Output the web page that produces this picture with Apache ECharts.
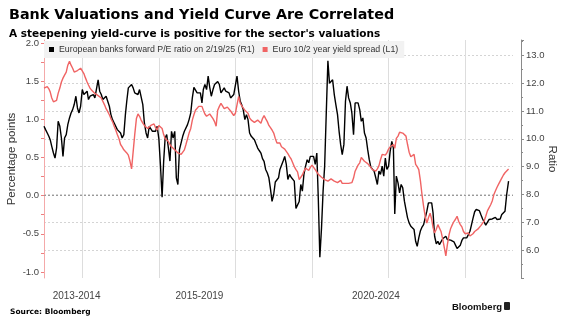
<!DOCTYPE html>
<html>
<head>
<meta charset="utf-8">
<script src="https://cdn.jsdelivr.net/npm/echarts@6/dist/echarts.min.js"></script>
<style>
  html, body { margin: 0; padding: 0; background: #ffffff; }
  #chart { width: 566px; height: 323px; }
</style>
</head>
<body>
<div id="chart"></div>
<script>
// Series names as shown in the legend
const seriesNames = [
  'European banks forward P/E ratio on 2/19/25 (R1)',
  'Euro 10/2 year yield spread (L1)'
];

// Twice-monthly observations (1st and 16th) from Jan 2013; last reading on 2/19/25
const firstYear = 2013;
const lastDate = '2025-02-19';

// European banks forward P/E ratio (right axis), one row per year
const peRatio = [
  10.45, 10.33, 10.21, 10.09, 9.97, 9.73, 9.49, 9.31, 9.67, 10.63, 10.45, 10.03, 9.37, 10.03, 10.15, 10.51, 10.75, 10.93, 11.05, 11.23, 11.53, 11.11, 10.93, 11.17,
  11.77, 11.59, 11.65, 11.71, 11.41, 11.53, 11.59, 11.59, 11.47, 11.53, 12.12, 11.71, 11.59, 11.41, 11.47, 11.53, 11.59, 11.17, 10.87, 10.69, 10.57, 10.51, 10.33, 10.39,
  10.21, 10.03, 10.15, 10.87, 11.35, 11.83, 11.89, 11.95, 11.83, 11.65, 11.59, 11.59, 11.77, 11.73, 11.23, 10.57, 10.21, 10.03, 10.45, 10.45, 10.27, 10.21, 10.27, 10.45,
  10.0, 9.07, 7.9, 9.2, 10.03, 10.15, 9.67, 9.2, 10.27, 10.03, 10.27, 8.6, 8.36, 9.61, 9.67, 10.09, 10.27, 10.33, 10.51, 10.69, 10.93, 11.47, 11.85, 11.83,
  11.65, 11.59, 11.65, 11.29, 11.77, 11.95, 11.77, 12.25, 11.85, 11.53, 11.77, 11.95, 12.0, 12.06, 11.95, 11.65, 11.65, 11.83, 11.71, 11.73, 11.65, 11.47, 11.47, 11.59,
  11.53, 12.25, 11.7, 11.35, 11.23, 11.05, 10.69, 10.87, 10.69, 10.21, 10.09, 10.03, 9.97, 9.82, 9.67, 9.58, 9.49, 9.29, 9.19, 8.9, 8.77, 8.6, 8.2, 7.75,
  8.0, 8.45, 8.5, 8.6, 8.9, 8.96, 9.2, 9.37, 9.08, 8.54, 8.72, 8.62, 8.69, 8.48, 7.5, 7.46, 7.75, 8.36, 8.12, 8.72, 9.02, 9.25, 9.14, 9.37,
  9.37, 9.37, 9.08, 9.49, 7.88, 5.75, 6.8, 8.12, 9.02, 10.87, 12.8, 12.0, 11.95, 12.12, 11.59, 11.23, 10.87, 10.27, 9.79, 9.43, 9.8, 11.35, 11.89, 11.47,
  11.29, 10.93, 10.15, 11.29, 11.35, 11.29, 11.05, 10.63, 10.75, 10.21, 10.03, 9.61, 9.25, 8.98, 9.05, 8.84, 8.6, 8.36, 8.84, 8.72, 9.02, 8.66, 9.31, 8.9,
  9.02, 9.55, 9.91, 9.67, 7.3, 8.66, 8.42, 8.06, 8.36, 8.24, 7.76, 7.46, 7.16, 6.98, 6.86, 6.86, 6.74, 6.32, 6.14, 6.44, 6.7, 6.83, 6.92, 6.98,
  7.4, 7.7, 7.76, 7.7, 7.34, 6.5, 6.23, 6.32, 6.2, 6.23, 6.41, 6.44, 6.5, 6.38, 6.32, 6.36, 6.36, 6.3, 6.18, 6.06, 5.99, 6.18, 6.35, 6.44,
  6.49, 6.44, 6.56, 6.68, 6.9, 7.14, 7.38, 7.46, 7.52, 7.42, 7.26, 7.12, 7.06, 6.9, 6.94, 7.1, 7.14, 7.12, 7.18, 7.18, 7.1, 7.16, 7.12, 7.28,
  7.24, 7.4, 8.0, 8.48
];

// Euro 10/2 year yield spread, percentage points (left axis), one row per year
const yieldSpread = [
  1.41, 1.41, 1.43, 1.4, 1.36, 1.28, 1.23, 1.21, 1.25, 1.34, 1.41, 1.49, 1.54, 1.58, 1.62, 1.71, 1.76, 1.71, 1.67, 1.62, 1.6, 1.64, 1.62, 1.67,
  1.69, 1.6, 1.54, 1.49, 1.45, 1.41, 1.38, 1.36, 1.34, 1.33, 1.31, 1.3, 1.28, 1.28, 1.19, 1.14, 1.1, 1.06, 1.01, 0.97, 0.91, 0.86, 0.8, 0.75,
  0.67, 0.64, 0.6, 0.58, 0.56, 0.53, 0.45, 0.35, 0.36, 0.8, 1.01, 1.07, 1.04, 0.99, 0.95, 0.92, 0.92, 0.88, 0.88, 0.92, 0.94, 0.94, 0.89, 0.86,
  0.92, 0.91, 0.88, 0.8, 0.75, 0.73, 0.71, 0.67, 0.64, 0.62, 0.6, 0.58, 0.56, 0.54, 0.54, 0.56, 0.6, 0.67, 0.69, 0.82, 0.88, 0.99, 1.06, 1.12,
  1.14, 1.17, 1.17, 1.17, 1.12, 1.07, 1.04, 1.04, 1.07, 1.07, 1.01, 0.97, 0.91, 1.12, 1.17, 1.21, 1.19, 1.14, 1.14, 1.16, 1.17, 1.11, 1.08, 1.05,
  1.08, 1.19, 1.3, 1.21, 1.19, 1.15, 1.12, 1.1, 1.08, 1.02, 0.99, 0.97, 0.96, 0.98, 0.99, 0.97, 0.95, 1.01, 1.05, 1.01, 0.97, 0.92, 0.89, 0.86,
  0.82, 0.75, 0.69, 0.71, 0.69, 0.64, 0.62, 0.61, 0.58, 0.55, 0.51, 0.48, 0.43, 0.38, 0.34, 0.31, 0.21, 0.23, 0.27, 0.32, 0.36, 0.35, 0.33, 0.37,
  0.4, 0.38, 0.34, 0.32, 0.28, 0.27, 0.24, 0.22, 0.21, 0.2, 0.19, 0.2, 0.22, 0.2, 0.19, 0.18, 0.17, 0.17, 0.2, 0.16, 0.14, 0.16, 0.17, 0.16,
  0.15, 0.17, 0.23, 0.32, 0.34, 0.4, 0.43, 0.5, 0.51, 0.45, 0.44, 0.42, 0.41, 0.37, 0.34, 0.32, 0.32, 0.35, 0.39, 0.47, 0.54, 0.55, 0.53, 0.56,
  0.61, 0.64, 0.66, 0.67, 0.62, 0.75, 0.78, 0.83, 0.85, 0.82, 0.8, 0.78, 0.67, 0.57, 0.51, 0.53, 0.54, 0.41, 0.38, 0.34, 0.19, 0.01, -0.14, -0.27,
  -0.36, -0.29, -0.23, -0.31, -0.42, -0.49, -0.44, -0.38, -0.36, -0.47, -0.57, -0.68, -0.79, -0.64, -0.51, -0.43, -0.38, -0.34, -0.31, -0.27, -0.34, -0.38, -0.41, -0.47,
  -0.5, -0.49, -0.49, -0.53, -0.52, -0.5, -0.47, -0.45, -0.44, -0.43, -0.39, -0.38, -0.33, -0.27, -0.2, -0.16, -0.12, -0.07, 0.01, 0.06, 0.11, 0.15, 0.19, 0.23,
  0.27, 0.3, 0.32, 0.35
];

// Axis ticks and labels (x positions in fractional years)
const leftLabels = [-1, -0.5, 0, 0.5, 1, 1.5, 2];
const leftTicks = [-1, -0.75, -0.5, -0.25, 0, 0.25, 0.5, 0.75, 1, 1.25, 1.5, 1.75, 2];
const rightLabels = [6, 7, 8, 9, 10, 11, 12, 13];
const gridYears = [2014, 2016, 2018, 2020, 2022, 2024];
const periodLabels = ['2013-2014', '2015-2019', '2020-2024'];
const periodLabelYears = [2013.85, 2017.06, 2021.67];

const titleText = 'Bank Valuations and Yield Curve Are Correlated';
const subtitleText = "A steepening yield-curve is positive for the sector's valuations";
const sourceText = 'Source: Bloomberg';
const brandText = 'Bloomberg';

const LABEL_FONT = '"Liberation Sans", Arial, sans-serif';
const HEAD_FONT = '"DejaVu Sans", Verdana, sans-serif';

// Fractional-year position of each observation
function yearFraction(ms) {
  const y = new Date(ms).getUTCFullYear();
  const start = Date.UTC(y, 0, 1);
  const end = Date.UTC(y + 1, 0, 1);
  return y + (ms - start) / (end - start);
}
function observationYear(i, n) {
  const ms = i === n - 1
    ? Date.parse(lastDate + 'T00:00:00Z')
    : Date.UTC(firstYear, Math.floor(i / 2), i % 2 ? 16 : 1);
  return yearFraction(ms);
}
function toPairs(values) {
  return values.map((v, i) => [observationYear(i, values.length), v]);
}

function periodLabelFor(value) {
  let best = 0;
  periodLabelYears.forEach((t, i) => {
    if (Math.abs(t - value) < Math.abs(periodLabelYears[best] - value)) best = i;
  });
  return periodLabels[best];
}

const chart = echarts.init(document.getElementById('chart'), null, { renderer: 'canvas' });

chart.setOption({
  animation: false,
  backgroundColor: '#ffffff',
  title: [
    {
      text: titleText, left: 4, top: 3,
      textStyle: { fontFamily: HEAD_FONT, fontWeight: 'bold', fontSize: 14.3, color: '#000' }
    },
    {
      text: subtitleText, left: 4, top: 24,
      textStyle: { fontFamily: HEAD_FONT, fontWeight: 'bold', fontSize: 10.5, color: '#000' }
    },
    {
      text: sourceText, left: 5, top: 303,
      textStyle: { fontFamily: HEAD_FONT, fontWeight: 'bold', fontSize: 7.5, color: '#000' }
    }
  ],
  graphic: [
    {
      type: 'text', left: 452, top: 302,
      style: { text: brandText, font: 'bold 9.5px "Liberation Sans", Arial, sans-serif', fill: '#111' }
    },
    {
      type: 'rect', left: 504, top: 302, shape: { width: 6, height: 8, r: 1 },
      style: { fill: '#222' }
    }
  ],
  legend: {
    data: seriesNames,
    left: 44, top: 41,
    icon: 'rect', itemWidth: 5, itemHeight: 5, itemGap: 8,
    backgroundColor: '#f2f2f2',
    padding: [4, 6, 4, 5],
    textStyle: { fontFamily: LABEL_FONT, fontSize: 8.8, color: '#333' }
  },
  grid: { left: 44, right: 53, top: 40, bottom: 45, containLabel: false, outerBoundsMode: 'none' },
  xAxis: {
    type: 'value',
    min: 2013,
    max: 2025.25,
    axisLine: { show: false },
    axisTick: { show: false },
    splitLine: { show: false },
    axisLabel: {
      customValues: periodLabelYears,
      formatter: v => periodLabelFor(v),
      fontFamily: LABEL_FONT, fontSize: 10, color: '#444', margin: 13
    }
  },
  yAxis: [
    {
      type: 'value', position: 'left', min: -1.08, max: 2.04,
      name: 'Percentage points', nameLocation: 'middle', nameGap: 26, nameMoveOverlap: false,
      nameTextStyle: { fontFamily: LABEL_FONT, fontSize: 11.5, color: '#333' },
      axisLine: { show: true, lineStyle: { color: '#f4a9a9', width: 1 } },
      axisTick: { show: true, length: 3, customValues: leftTicks, lineStyle: { color: '#ee7f7f' } },
      axisLabel: {
        customValues: leftLabels, formatter: v => v.toFixed(1),
        fontFamily: LABEL_FONT, fontSize: 9.5, color: '#444', margin: 5
      },
      splitLine: { show: false }
    },
    {
      type: 'value', position: 'right', offset: 8, min: 5, max: 13.55, interval: 1,
      name: 'Ratio', nameLocation: 'middle', nameRotate: -90, nameGap: 25, nameMoveOverlap: false,
      nameTextStyle: { fontFamily: LABEL_FONT, fontSize: 11.5, color: '#333' },
      axisLine: { show: true, lineStyle: { color: '#8a8a8a', width: 1 } },
      axisTick: { show: true, length: 3, lineStyle: { color: '#8a8a8a' } },
      minorTick: { show: true, splitNumber: 2, length: 2, lineStyle: { color: '#8a8a8a' } },
      axisLabel: {
        customValues: rightLabels, formatter: v => v.toFixed(1),
        fontFamily: LABEL_FONT, fontSize: 9.5, color: '#444', margin: 5
      },
      splitLine: {
        show: true, showMinLine: false, showMaxLine: false,
        lineStyle: { color: '#d4d4d4', type: [2, 2], width: 1 }
      }
    }
  ],
  series: [
    {
      name: seriesNames[0], type: 'line', yAxisIndex: 1,
      data: toPairs(peRatio),
      showSymbol: false, symbol: 'none',
      lineStyle: { color: '#000000', width: 1.4 },
      itemStyle: { color: '#000000' },
      // one vertical gridline every two years
      markLine: {
        silent: true, symbol: 'none', z: 1, label: { show: false },
        lineStyle: { color: '#dddddd', type: 'solid', width: 1 },
        data: gridYears.map(y => ({ xAxis: y }))
      }
    },
    {
      name: seriesNames[1], type: 'line', yAxisIndex: 0,
      data: toPairs(yieldSpread),
      showSymbol: false, symbol: 'none',
      lineStyle: { color: '#f06464', width: 1.4 },
      itemStyle: { color: '#f06464' },
      markLine: {
        silent: true, symbol: 'none', z: 1, label: { show: false },
        lineStyle: { color: '#9a9a9a', type: [2, 2], width: 1 },
        data: [{ yAxis: 0 }]
      }
    }
  ]
});
</script>
</body>
</html>
